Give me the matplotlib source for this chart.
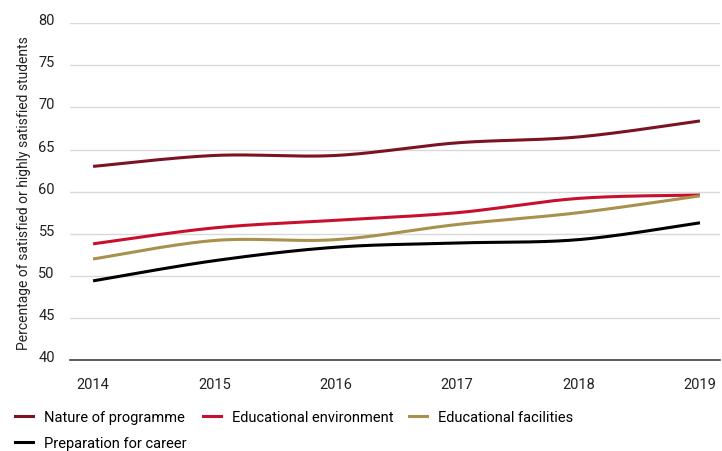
import numpy as np
import matplotlib
matplotlib.use("Agg")
import matplotlib.pyplot as plt
import matplotlib.transforms as mtransforms
from matplotlib.lines import Line2D

years = [2014, 2015, 2016, 2017, 2018, 2019]
nature = [63.0, 64.3, 64.3, 65.8, 66.5, 68.4]
environment = [53.8, 55.7, 56.6, 57.5, 59.2, 59.6]
facilities = [52.0, 54.2, 54.3, 56.1, 57.5, 59.5]
career = [49.4, 51.8, 53.4, 53.9, 54.3, 56.3]
labels = ["Nature of programme", "Educational environment",
          "Educational facilities", "Preparation for career"]
colors = ["#7c1322", "#c8102e", "#a8914c", "#000000"]
yticks = [40, 45, 50, 55, 60, 65, 70, 75, 80]

plt.rcParams['font.family'] = ['Roboto', 'DejaVu Sans']


def smooth(x, y, n=40):
    x = np.asarray(x, float)
    y = np.asarray(y, float)
    px = np.concatenate([[x[0]], x, [x[-1]]])
    py = np.concatenate([[y[0]], y, [y[-1]]])
    xs, ys = [], []
    t = np.linspace(0, 1, n)
    for i in range(1, len(px) - 2):
        p0, p1, p2, p3 = (np.array([px[j], py[j]]) for j in (i - 1, i, i + 1, i + 2))
        c1 = p1 + (p2 - p0) / 6
        c2 = p2 - (p3 - p1) / 6
        b = ((1 - t) ** 3)[:, None] * p1 + (3 * (1 - t) ** 2 * t)[:, None] * c1 \
            + (3 * (1 - t) * t ** 2)[:, None] * c2 + (t ** 3)[:, None] * p2
        xs.append(b[:, 0])
        ys.append(b[:, 1])
    return np.concatenate(xs), np.concatenate(ys)


W, H = 722, 452
fig = plt.figure(figsize=(W / 100, H / 100), dpi=100)
ax = fig.add_axes([70 / W, 1 - 361 / H, 650 / W, (361 - 24.3) / H])

series = [nature, environment, facilities, career]
handles = []
for vals, lab, col in zip(series, labels, colors):
    sx, sy = smooth(years, vals)
    ax.plot(sx, sy, color=col, lw=2.2, solid_capstyle='butt')
    handles.append(Line2D([], [], color=col, lw=2.2, label=lab))

ax.set_ylim(40, 80)
ax.set_xlim(2014 - 0.19, 2019 + 0.165)
ax.set_yticks(yticks)
ax.set_xticks(years)
ax.grid(axis='y', color='#d9d9d9', lw=1)
ax.set_axisbelow(True)
for s in ['left', 'right', 'top']:
    ax.spines[s].set_visible(False)
ax.spines['bottom'].set_color('#404040')
ax.spines['bottom'].set_linewidth(1.2)
ax.tick_params(axis='both', length=0, labelsize=10.5, colors='#222222')
ax.tick_params(axis='y', pad=11)
ax.tick_params(axis='x', pad=12)
ax.set_ylabel("Percentage of satisfied or highly satisfied students",
              fontsize=10, color='#222222', labelpad=5)

# legend entries placed individually: (handle, handle-left px, row-centre px)
placements = [(handles[0], 15, 418), (handles[1], 203, 418),
              (handles[2], 409, 418), (handles[3], 15, 444)]
for h, xp, yp in placements:
    fig.legend(handles=[h], labels=[h.get_label()], loc='center left',
               bbox_to_anchor=(xp / W, 1 - yp / H), frameon=False,
               fontsize=10.5, handlelength=1.25, handletextpad=0.75,
               borderaxespad=0, borderpad=0)

offset = mtransforms.ScaledTranslation(0, 4.5 / 100, fig.dpi_scale_trans)
for lab in ax.get_yticklabels():
    lab.set_transform(lab.get_transform() + offset)

fig.savefig("out.png", dpi=100)
